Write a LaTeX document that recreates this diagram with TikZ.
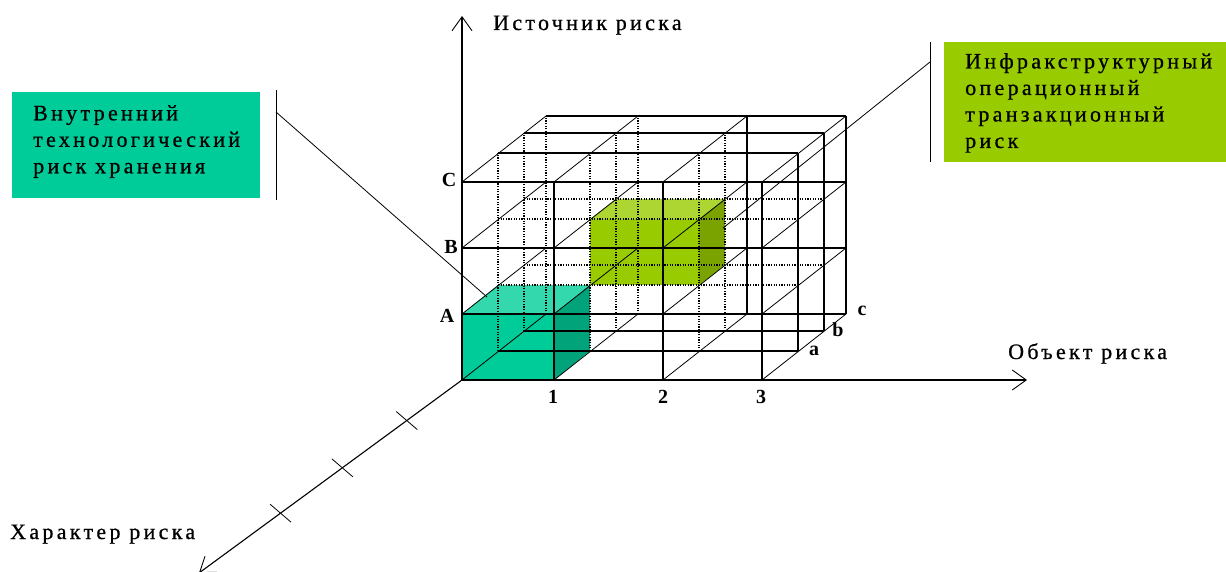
\documentclass[tikz,border=0pt]{standalone}
\usepackage{fontspec}
\setmainfont{Liberation Serif}
\newfontfamily\lblfont[LetterSpace=15,FakeBold=0.7]{Liberation Serif}
\usetikzlibrary{arrows.meta,calc}
\definecolor{tealfront}{HTML}{00CC99}
\definecolor{tealtop}{HTML}{33D9AD}
\definecolor{tealside}{HTML}{00A37A}
\definecolor{greenfront}{HTML}{99CC00}
\definecolor{greentop}{HTML}{ADD633}
\definecolor{greenside}{HTML}{7AA300}
\begin{document}
\begin{tikzpicture}[x=1pt,y=-1pt,
  solidline/.style={line width=1.2pt},
  thinline/.style={line width=0.8pt},
  dotline/.style={line width=1.1pt, dash pattern=on 1.2pt off 1.4pt},
  axisline/.style={line width=1.1pt, -{Straight Barb[length=14pt,width=20pt,line width=0.9pt]}},
  boxtext/.style={font=\lblfont\fontsize{22}{26.5}\selectfont, align=left, inner sep=0pt, anchor=north west},
  axistext/.style={font=\lblfont\fontsize{22}{26.5}\selectfont, inner sep=0pt, anchor=base west},
  gridlabel/.style={font=\bfseries\fontsize{20}{20}\selectfont, inner sep=0pt},
  infobox/.style={inner sep=0pt, anchor=north west},
]
\useasboundingbox (0,0) rectangle (1226,572);

\foreach \i/\xx in {0/462,1/554,2/663,3/762}{
 \foreach \j/\yy in {0/380,1/314,2/248,3/182}{
  \foreach \k/\dx/\dy in {0/0/0,1/36/-29,2/62/-49,3/84/-66}{
   \coordinate (p\i\j\k) at ({\xx+\dx},{\yy+\dy});
  }}}

% coloured cells
\fill[tealfront] (p000) -- (p100) -- (p110) -- (p010) -- cycle;
\fill[tealtop] (p010) -- (p110) -- (p111) -- (p011) -- cycle;
\fill[tealside] (p100) -- (p110) -- (p111) -- (p101) -- cycle;
\fill[greenfront] (p111) -- (p211) -- (p221) -- (p121) -- cycle;
\fill[greentop] (p121) -- (p221) -- (p222) -- (p122) -- cycle;
\fill[greenside] (p211) -- (p221) -- (p222) -- (p212) -- cycle;

% inner layers
\foreach \k in {1,2}{
  \foreach \i in {0,1,2} \draw[dotline] (p\i0\k) -- (p\i3\k);
  \foreach \j in {1,2} \draw[dotline] (p0\j\k) -- (p3\j\k);
  \draw[solidline] (p30\k) -- (p33\k);
  \draw[solidline] (p00\k) -- (p30\k);
  \draw[solidline] (p03\k) -- (p33\k);
}
% back layer
\foreach \i in {0,1} \draw[dotline] (p\i03) -- (p\i33);
\foreach \i in {2,3} \draw[solidline] (p\i03) -- (p\i33);
\foreach \j in {0,...,3} \draw[solidline] (p0\j3) -- (p3\j3);
% depth lines
\foreach \i in {0,...,3}{\foreach \j in {0,...,3}{\draw[thinline] (p\i\j0) -- (p\i\j3);}}
% front layer
\foreach \i in {1,2,3} \draw[solidline] (p\i00) -- (p\i30);
\foreach \j in {1,2,3} \draw[solidline] (p0\j0) -- (p3\j0);

% axes
\coordinate (ytip) at (462,16);
\coordinate (xtip) at (1027,380);
\coordinate (ztip) at (199,573);
\draw[axisline] (p000) -- (ytip);
\draw[axisline] (p000) -- (xtip);
\draw[axisline] (p000) -- (ztip);
\foreach \t in {0.21,0.455,0.69}
  \draw[thinline] ($(p000)!\t!(ztip)$) ++(-10.5,-9) -- ++(21,18);

% grid labels
\node[gridlabel] (lA) at (447,316) {A};
\node[gridlabel] (lB) at (451,247) {B};
\node[gridlabel] (lC) at (449,180) {C};
\node[gridlabel] (l1) at (553,397) {1};
\node[gridlabel] (l2) at (663,397) {2};
\node[gridlabel] (l3) at (761,397) {3};
\node[gridlabel] (la) at (814,351) {a};
\node[gridlabel] (lb) at (838,330) {b};
\node[gridlabel] (lc) at (862,311) {c};

% axis titles
\node[axistext] (tsrc) at (493,30) {Источник риска};
\node[axistext] (tobj) at (1008,359) {Объект риска};
\node[axistext] (tchar) at (10,539) {Характер риска};

% info boxes
\node[infobox, fill=tealfront, minimum width=248pt, minimum height=106pt] (lbox) at (12,92) {};
\node[boxtext] (ltext) at (33,105) {Внутренний\\технологический\\риск хранения};
\node[infobox, fill=greenfront, minimum width=282pt, minimum height=120pt] (rbox) at (944,42) {};
\node[boxtext] (rtext) at (965,53) {Инфракструктурный\\операционный\\транзакционный\\риск};

% leaders
\coordinate (lbar1) at (276,90);
\coordinate (lbar2) at (276,200);
\coordinate (lknee) at (276,112);
\coordinate (lend) at (487,297);
\draw[thinline] (lbar1) -- (lbar2);
\draw[thinline] (lknee) -- (lend);
\coordinate (rbar1) at (930,42);
\coordinate (rbar2) at (930,162);
\coordinate (rknee) at (930,62);
\coordinate (rend) at (723,228);
\draw[thinline] (rbar1) -- (rbar2);
\draw[thinline] (rknee) -- (rend);
\end{tikzpicture}
\end{document}
